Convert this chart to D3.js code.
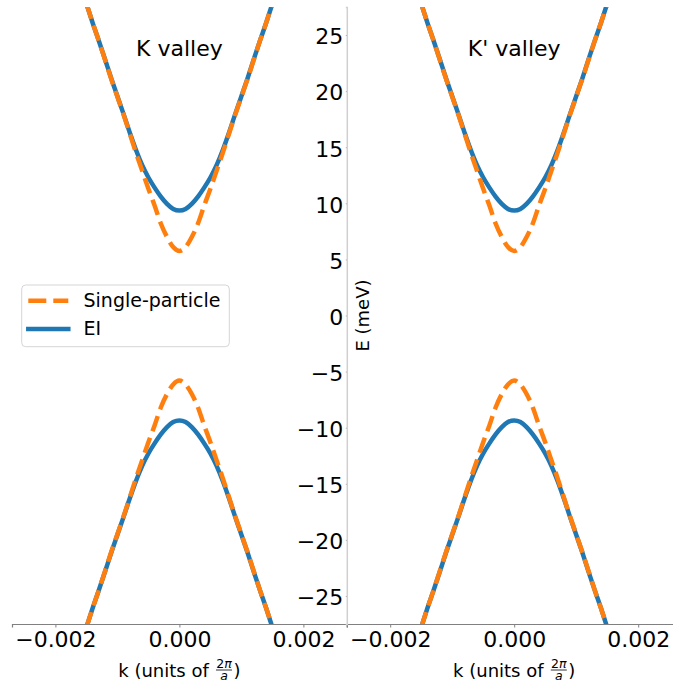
<!DOCTYPE html>
<html>
<head>
<meta charset="utf-8">
<script src="https://cdn.jsdelivr.net/npm/d3@7"></script>
<style>
  body { margin: 0; background: white; }
  svg { display: block; font-family: "DejaVu Sans", sans-serif; }
</style>
</head>
<body>
<div id="wrapper"></div>
<script>
/* DATA */
const valleyNames = ["K valley", "K' valley"];
const kValues = [-0.0015, -0.0014, -0.0013, -0.0012, -0.0011, -0.0010, -0.0009, -0.0008, -0.0007, -0.0006, -0.0005,
  -0.0004, -0.0003, -0.0002, -0.0001, 0, 0.0001, 0.0002, 0.0003, 0.0004, 0.0005,
  0.0006, 0.0007, 0.0008, 0.0009, 0.0010, 0.0011, 0.0012, 0.0013, 0.0014, 0.0015];
const spUpper = [27.8, 26.1, 24.5, 22.8, 21.1, 19.5, 17.9, 16.2, 14.5, 12.9, 11.3, 9.8, 8.2, 7.0, 6.1, 5.75,
  6.1, 7.0, 8.2, 9.8, 11.3, 12.9, 14.5, 16.2, 17.9, 19.5, 21.1, 22.8, 24.5, 26.1, 27.8];
const spLower = [-27.8, -26.1, -24.5, -22.8, -21.1, -19.5, -17.9, -16.2, -14.5, -12.9, -11.3, -9.8, -8.2, -7.0, -6.15, -5.8,
  -6.15, -7.0, -8.2, -9.8, -11.3, -12.9, -14.5, -16.2, -17.9, -19.5, -21.1, -22.8, -24.5, -26.1, -27.8];
const eiUpper = [27.8, 26.1, 24.5, 22.85, 21.15, 19.55, 17.95, 16.3, 14.75, 13.4, 12.3, 11.4, 10.6, 9.95, 9.5, 9.35,
  9.5, 9.95, 10.6, 11.4, 12.3, 13.4, 14.75, 16.3, 17.95, 19.55, 21.15, 22.85, 24.5, 26.1, 27.8];
const eiLower = [-27.8, -26.1, -24.5, -22.85, -21.15, -19.55, -17.95, -16.3, -14.75, -13.4, -12.3, -11.4, -10.6, -9.95, -9.5, -9.35,
  -9.5, -9.95, -10.6, -11.4, -12.3, -13.4, -14.75, -16.3, -17.95, -19.55, -21.15, -22.85, -24.5, -26.1, -27.8];
const xTicks = [-0.002, 0, 0.002];
const yTicks = [-25, -20, -15, -10, -5, 0, 5, 10, 15, 20, 25];
const legendLabels = ["Single-particle", "EI"];

const blue = "#1f77b4";
const orange = "#ff7f0e";

/* DIMENSIONS */
const dimensions = {
  width: 673,
  height: 684,
  top: 7,
  bottom: 624,
  panelLeft: 12,
  panelWidth: 334.8,
  lineWidth: 4.5
};

const yScale = d3.scaleLinear()
  .domain([-27.5, 27.5])
  .range([dimensions.bottom, dimensions.top]);

const svg = d3.select("#wrapper")
  .append("svg")
  .attr("width", dimensions.width)
  .attr("height", dimensions.height);

const defs = svg.append("defs");

valleyNames.forEach((name, p) => {
  const x0 = dimensions.panelLeft + p * dimensions.panelWidth;
  const x1 = x0 + dimensions.panelWidth;
  const xScale = d3.scaleLinear().domain([-0.0027, 0.0027]).range([x0, x1]);

  defs.append("clipPath").attr("id", "clip" + p)
    .append("rect")
    .attr("x", x0).attr("y", dimensions.top)
    .attr("width", x1 - x0).attr("height", dimensions.bottom - dimensions.top);

  const line = d3.line()
    .x((d, i) => xScale(kValues[i]))
    .y(d => yScale(d))
    .curve(d3.curveMonotoneX);

  const g = svg.append("g");

  // x axis
  const xAxis = g.append("g")
    .attr("transform", `translate(0,${dimensions.bottom})`)
    .call(d3.axisBottom(xScale).tickValues(xTicks).tickFormat(d3.format(".3f")).tickSizeOuter(0).tickSize(3.5).tickPadding(4));
  xAxis.select(".domain").attr("stroke", "#808080").attr("stroke-width", 1.2);
  xAxis.selectAll(".tick line").attr("stroke", "#808080");
  xAxis.selectAll(".tick text").attr("font-size", 22).attr("fill", "#000");
  xAxis.attr("font-family", null);

  // curves
  const curves = g.append("g").attr("clip-path", `url(#clip${p})`).attr("fill", "none");
  [eiUpper, eiLower].forEach(series => {
    curves.append("path")
      .attr("d", line(series))
      .attr("stroke", blue)
      .attr("stroke-width", dimensions.lineWidth);
  });
  [spUpper, spLower].forEach(series => {
    curves.append("path")
      .attr("d", line(series))
      .attr("stroke", orange)
      .attr("stroke-width", dimensions.lineWidth)
      .attr("stroke-dasharray", "16,7");
  });

  // title
  g.append("text")
    .attr("x", xScale(0))
    .attr("y", 56)
    .attr("text-anchor", "middle")
    .attr("font-size", 22)
    .text(name);

  // x label with fraction
  const labelGroup = g.append("g");
  const mainText = labelGroup.append("text")
    .attr("y", 677)
    .attr("font-size", 18)
    .text("k (units of");
  const mainWidth = mainText.node().getComputedTextLength() + 5.7;
  const fracWidth = 17;
  const closeText = labelGroup.append("text")
    .attr("y", 677)
    .attr("font-size", 18)
    .text(")");
  const closeWidth = closeText.node().getComputedTextLength();
  const total = mainWidth + fracWidth + closeWidth + 2;
  const start = xScale(0) - total / 2;
  mainText.attr("x", start);
  const fx = start + mainWidth + 1 + fracWidth / 2;
  labelGroup.append("text")
    .attr("x", fx).attr("y", 667.5)
    .attr("text-anchor", "middle")
    .attr("font-size", 12.5)
    .html('2<tspan font-style="italic">π</tspan>');
  labelGroup.append("line")
    .attr("x1", fx - fracWidth / 2 + 0.5).attr("x2", fx + fracWidth / 2 - 0.5)
    .attr("y1", 670).attr("y2", 670)
    .attr("stroke", "#000").attr("stroke-width", 0.8);
  labelGroup.append("text")
    .attr("x", fx).attr("y", 680)
    .attr("text-anchor", "middle")
    .attr("font-size", 12.5)
    .attr("font-style", "italic")
    .text("a");
  closeText.attr("x", start + mainWidth + fracWidth + 2);

  // y axis only on the second panel
  if (p === 1) {
    const yAxis = g.append("g")
      .attr("transform", `translate(${x0},0)`)
      .call(d3.axisLeft(yScale).tickValues(yTicks).tickFormat(d3.format("d")).tickSizeOuter(0).tickSize(1).tickPadding(2.5));
    yAxis.select(".domain").attr("stroke", "#d0d0d0").attr("stroke-width", 1.5);
    yAxis.selectAll(".tick line").attr("stroke", "#aaa");
    yAxis.selectAll(".tick text").attr("font-size", 22).attr("fill", "#000").attr("dy", "0.4em");
    yAxis.attr("font-family", null);

    g.append("text")
      .attr("transform", `translate(${x0 + 22.5},${yScale(0)}) rotate(-90)`)
      .attr("text-anchor", "middle")
      .attr("font-size", 18)
      .text("E (meV)");
  }
});

/* LEGEND */
const legend = svg.append("g");
legend.append("rect")
  .attr("x", 21.7).attr("y", 285)
  .attr("width", 207.6).attr("height", 61.7)
  .attr("rx", 4)
  .attr("fill", "white")
  .attr("stroke", "#d5d5d5");

const legendRows = legend.selectAll("g.row")
  .data(legendLabels)
  .enter()
  .append("g")
  .attr("class", "row")
  .attr("transform", (d, i) => `translate(0,${300.7 + i * 28.3})`);

legendRows.append("line")
  .attr("x1", 28.3).attr("x2", 68.3)
  .attr("stroke", (d, i) => i === 0 ? orange : blue)
  .attr("stroke-width", dimensions.lineWidth)
  .attr("stroke-linecap", (d, i) => i === 0 ? "butt" : "square")
  .attr("stroke-dasharray", (d, i) => i === 0 ? "18,7" : null);

legendRows.append("text")
  .attr("x", 83.5)
  .attr("y", 6.3)
  .attr("font-size", 19)
  .text(d => d);
</script>
</body>
</html>
